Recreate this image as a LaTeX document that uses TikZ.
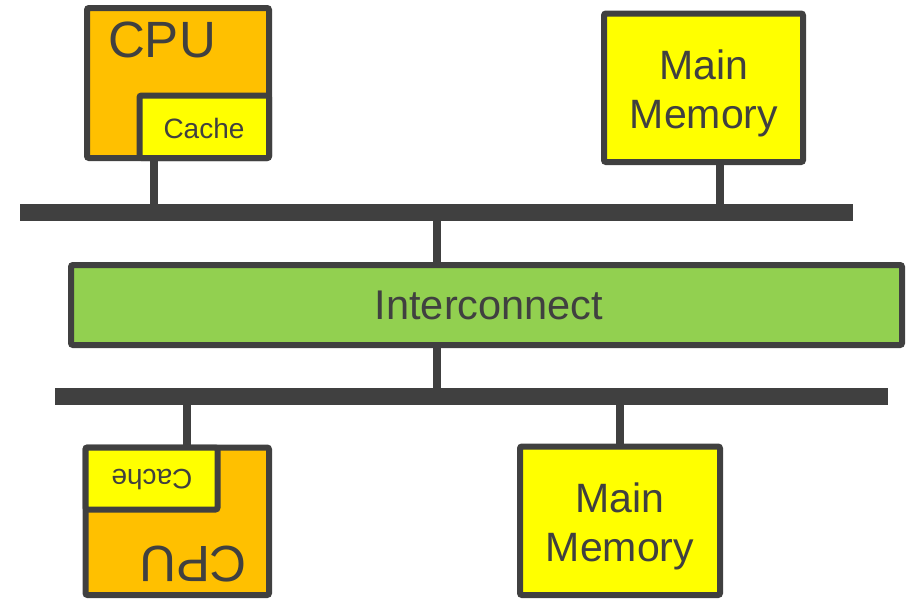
\documentclass[tikz,border=0pt]{standalone}
\usepackage{fontspec}
\setmainfont{Liberation Sans}
\definecolor{dg}{HTML}{404040}
\definecolor{cpuor}{HTML}{FFC000}
\definecolor{memye}{HTML}{FFFF00}
\definecolor{icgr}{HTML}{92D050}
\tikzset{
  boxy/.style={draw=dg, line width=6pt, rounded corners=2pt, inner sep=0pt, anchor=center},
  bus/.style={fill=dg, draw=none, inner sep=0pt, minimum height=17pt},
  stub/.style={draw=dg, line width=8pt},
  txt/.style={text=dg, inner sep=0pt, align=center},
}
\begin{document}
\begin{tikzpicture}[x=1pt,y=-1pt]
\useasboundingbox (0,0) rectangle (908,598);
% buses
\node[bus, minimum width=833pt] (busT) at (436.5,212.5) {};
\node[bus, minimum width=833pt] (busB) at (471.5,396.5) {};
% interconnect
\node[boxy, fill=icgr, minimum width=831pt, minimum height=80pt] (ic) at (486.5,305) {};
\node[txt, font=\fontsize{41.5}{48}\selectfont] (icT) at (489,305) {Interconnect};
% top CPU
\node[boxy, fill=cpuor, minimum width=182pt, minimum height=150pt] (cpu1) at (178,83) {};
\node[txt, font=\fontsize{51}{60}\selectfont] (cpu1T) at (162,40) {CPU};
\node[boxy, fill=memye, minimum width=129.5pt, minimum height=62.5pt] (cache1) at (204.25,126.75) {};
\node[txt, font=\fontsize{28}{34}\selectfont] (cache1T) at (204,128) {Cache};
% top memory
\node[boxy, fill=memye, minimum width=199pt, minimum height=148.5pt] (mem1) at (703.5,87.75) {};
\node[txt, font=\fontsize{41}{49}\selectfont] (mem1T) at (704,93) {Main\\Memory};
% bottom CPU
\node[boxy, fill=cpuor, minimum width=183.5pt, minimum height=147.5pt] (cpu2) at (177.25,521.25) {};
\node[txt, font=\fontsize{51}{60}\selectfont, rotate=180] (cpu2T) at (193,564) {CPU};
\node[boxy, fill=memye, minimum width=132pt, minimum height=62pt] (cache2) at (151.5,478.5) {};
\node[txt, font=\fontsize{28}{34}\selectfont, rotate=180] (cache2T) at (152,479) {Cache};
% bottom memory
\node[boxy, fill=memye, minimum width=200pt, minimum height=148.5pt] (mem2) at (620,520.75) {};
\node[txt, font=\fontsize{41}{49}\selectfont] (mem2T) at (620,526) {Main\\Memory};
% stubs
\coordinate (x1) at (153.5,0);
\coordinate (x2) at (720,0);
\coordinate (x3) at (437,0);
\coordinate (x4) at (187,0);
\coordinate (x5) at (620,0);
\draw[stub] (cpu1.south -| x1) -- (busT.north -| x1);
\draw[stub] (mem1.south -| x2) -- (busT.north -| x2);
\draw[stub] (busT.south -| x3) -- (ic.north -| x3);
\draw[stub] (ic.south -| x3) -- (busB.north -| x3);
\draw[stub] (busB.south -| x4) -- (cpu2.north -| x4);
\draw[stub] (busB.south -| x5) -- (mem2.north -| x5);
\end{tikzpicture}
\end{document}
